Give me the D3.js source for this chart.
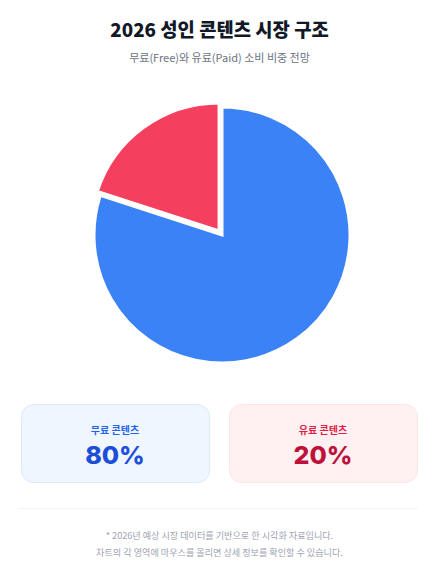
<!DOCTYPE html>
<html><head><meta charset="utf-8">
<script src="https://cdn.jsdelivr.net/npm/d3@7/dist/d3.min.js"></script>
<style>
html,body{margin:0;padding:0;background:#fff;}
body{width:439px;height:581px;overflow:hidden;font-family:"Noto Sans CJK KR","Noto Sans",sans-serif;}
</style></head>
<body><svg id="c" width="439" height="581"></svg>
<script>
const categories = ["무료 콘텐츠", "유료 콘텐츠"];
const values = [80, 20];
const colors = ["#3b82f6", "#f43f5e"];
const title = "2026 성인 콘텐츠 시장 구조";
const subtitle = "무료(Free)와 유료(Paid) 소비 비중 전망";
const notes = ["* 2026년 예상 시장 데이터를 기반으로 한 시각화 자료입니다.",
               "차트의 각 영역에 마우스를 올리면 상세 정보를 확인할 수 있습니다."];

const svg = d3.select("#c");
const W = 439;
svg.append("text").attr("x", W/2).attr("y", 37).attr("text-anchor","middle")
  .attr("font-size", 18.8).attr("font-weight", 800).attr("fill", "#111827").text(title);
svg.append("text").attr("x", W/2).attr("y", 62).attr("text-anchor","middle")
  .attr("font-size", 11).attr("fill", "#6b7280").text(subtitle);

const cx = 222, cy = 235, r = 128;
const pie = d3.pie().sort(null).value(d => d)(values);
const arc = d3.arc().innerRadius(0).outerRadius(r);
const g = svg.append("g").attr("transform", `translate(${cx},${cy})`);
g.selectAll("path").data(pie).join("path")
  .attr("d", arc)
  .attr("fill", (d,i) => colors[i])
  .attr("stroke", "#fff").attr("stroke-width", 3)
  .attr("transform", (d,i) => {
    if (i !== 1) return null;
    const a = (d.startAngle + d.endAngle)/2, off = 5;
    return `translate(${off*Math.sin(a)},${-off*Math.cos(a)})`;
  });

const cards = [
  {x: 21, fill: "#eff6ff", stroke: "#dbeafe", lab: "#2563eb", val: "#1d4ed8"},
  {x: 229, fill: "#fff1f2", stroke: "#ffe4e6", lab: "#e11d48", val: "#be123c"}
];
cards.forEach((c, i) => {
  const cg = svg.append("g").attr("transform", `translate(${c.x},404)`);
  cg.append("rect").attr("x", 0.5).attr("y", 0.5).attr("width", 188).attr("height", 78)
    .attr("rx", 12).attr("fill", c.fill).attr("stroke", c.stroke);
  cg.append("text").attr("x", 94).attr("y", 30).attr("text-anchor","middle")
    .attr("font-size", 10).attr("font-weight", 700).attr("fill", c.lab).text(categories[i]);
  cg.append("text").attr("x", 94).attr("y", 60).attr("text-anchor","middle")
    .attr("font-size", 25).attr("font-weight", 800).attr("fill", c.val)
    .attr("font-family", "Inter, 'Noto Sans', sans-serif").text(values[i] + "%");
});

svg.append("line").attr("x1", 20).attr("x2", 418).attr("y1", 508.5).attr("y2", 508.5)
  .attr("stroke", "#f3f4f6");
notes.forEach((t, i) => {
  svg.append("text").attr("x", W/2).attr("y", 539 + i*17).attr("text-anchor","middle")
    .attr("font-size", 9.1).attr("fill", "#9ca3af").text(t);
});
</script></body></html>
